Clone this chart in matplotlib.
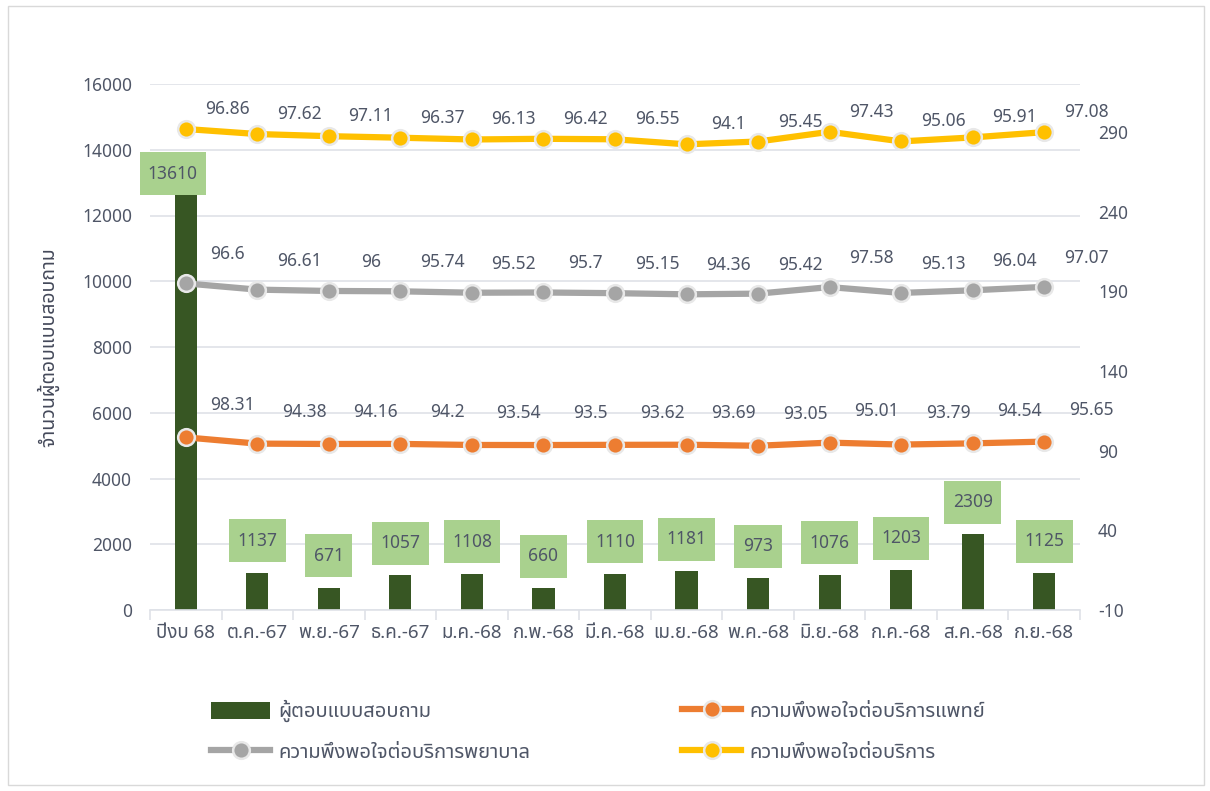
import numpy as np
import matplotlib
matplotlib.use("Agg")
import matplotlib.pyplot as plt
from matplotlib import font_manager
from matplotlib.ft2font import FT2Font
from matplotlib.patches import Rectangle, Patch
from matplotlib.lines import Line2D
from matplotlib.text import Text
from matplotlib.offsetbox import DrawingArea, AnnotationBbox

# ---------------- data ----------------
categories = ["ปีงบ 68", "ต.ค.-67", "พ.ย.-67", "ธ.ค.-67", "ม.ค.-68", "ก.พ.-68", "มี.ค.-68",
              "เม.ย.-68", "พ.ค.-68", "มิ.ย.-68", "ก.ค.-68", "ส.ค.-68", "ก.ย.-68"]
respondents = [13610, 1137, 671, 1057, 1108, 660, 1110, 1181, 973, 1076, 1203, 2309, 1125]
sat_doctor = [98.31, 94.38, 94.16, 94.2, 93.54, 93.5, 93.62, 93.69, 93.05, 95.01, 93.79, 94.54, 95.65]
sat_nurse = [96.6, 96.61, 96, 95.74, 95.52, 95.7, 95.15, 94.36, 95.42, 97.58, 95.13, 96.04, 97.07]
sat_service = [96.86, 97.62, 97.11, 96.37, 96.13, 96.42, 96.55, 94.1, 95.45, 97.43, 95.06, 95.91, 97.08]

left_ticks = [0, 2000, 4000, 6000, 8000, 10000, 12000, 14000, 16000]
right_ticks = [-10, 40, 90, 140, 190, 240, 290]

label_bar = "ผู้ตอบแบบสอบถาม"
label_doc = "ความพึงพอใจต่อบริการแพทย์"
label_nurse = "ความพึงพอใจต่อบริการพยาบาล"
label_service = "ความพึงพอใจต่อบริการ"
ylabel_left = "จำนวนผู้ตอบแบบสอบถาม"

# ---------------- font ----------------
def find_thai_font():
    prefs = ['Noto Sans Thai', 'Noto Sans Thai UI', 'Loma', 'Garuda', 'Sarabun', 'Umpush',
             'Waree', 'Tlwg Typist', 'Tlwg Typo', 'Kinnari', 'Norasi', 'Laksaman', 'FreeSans']
    found = []
    for f in font_manager.fontManager.ttflist:
        try:
            cm = FT2Font(f.fname).get_charmap()
            if 0x0E01 in cm and 0x0E1E in cm and 0x0E34 in cm:
                found.append(f.name)
        except Exception:
            pass
    for p in prefs:
        if p in found:
            return p
    return found[0] if found else None

thai = find_thai_font()
families = ([thai] if thai else []) + ['DejaVu Sans']
plt.rcParams['font.family'] = families

TXT = '#4f5667'
GRID = '#dfe2e8'
C_BAR = '#375623'
C_DOC = '#ed7d31'
C_NUR = '#a5a5a5'
C_SER = '#ffc000'
C_BOX = '#a9d18e'
PT = 72 / 100  # points per pixel at dpi 100

W, H = 1210, 791
fig = plt.figure(figsize=(W / 100, H / 100), dpi=100)
fig.patches.append(Rectangle((8 / W, 6 / H), (W - 14) / W, (H - 12) / H, transform=fig.transFigure,
                             fill=False, edgecolor='#d9d9d9', linewidth=1.0))

ax = fig.add_axes([150 / W, 1 - 610 / H, 930 / W, 526 / H])
ax2 = ax.twinx()

x = np.arange(len(categories))

# bars
ax.bar(x, respondents, width=0.31, color=C_BAR, zorder=2)
ax.set_ylim(0, 16000)
ax.set_xlim(-0.5, len(categories) - 0.5)
ax.set_yticks(left_ticks)
ax.set_yticklabels([str(t) for t in left_ticks])
ax.yaxis.grid(True, color=GRID, linewidth=1.2)
ax.set_axisbelow(True)
for s in ['top', 'right', 'left']:
    ax.spines[s].set_visible(False)
ax.spines['bottom'].set_color(GRID)
ax.spines['bottom'].set_linewidth(1.2)
ax.tick_params(axis='y', length=0, pad=13, labelsize=12.5, labelcolor=TXT)
ax.set_xticks(x)
ax.set_xticklabels(categories)
ax.tick_params(axis='x', which='major', length=0, pad=10, labelsize=13.5, labelcolor=TXT)
ax.set_xticks(np.arange(-0.5, len(categories) + 0.5, 1), minor=True)
ax.tick_params(axis='x', which='minor', length=7, width=1.2, color=GRID)
ax.set_ylabel(ylabel_left, fontsize=14, color='#44495a', labelpad=16, fontweight='bold')

# stacked lines (stacked line chart: each series adds on top of the previous one)
doc_arr = np.array(sat_doctor)
nur_arr = np.array(sat_nurse)
ser_arr = np.array(sat_service)
stack_doc = doc_arr
stack_nur = doc_arr + nur_arr
stack_ser = doc_arr + nur_arr + ser_arr

line_kw = dict(linewidth=4.5, marker='o', markersize=12, markeredgewidth=1.8,
               markeredgecolor='#e8e8e8')
ax2.plot(x, stack_doc, color=C_DOC, markerfacecolor=C_DOC, zorder=4, **line_kw)
ax2.plot(x, stack_nur, color=C_NUR, markerfacecolor=C_NUR, zorder=4, **line_kw)
ax2.plot(x, stack_ser, color=C_SER, markerfacecolor=C_SER, zorder=4, **line_kw)
ax2.set_ylim(-10, 320)
ax2.set_yticks(right_ticks)
ax2.set_yticklabels([str(t) for t in right_ticks])
for s in ['top', 'right', 'left', 'bottom']:
    ax2.spines[s].set_visible(False)
ax2.tick_params(axis='y', length=0, pad=13, labelsize=12.5, labelcolor=TXT)

# bar labels in green boxes (drawn on ax2 so they sit above the lines)
for xi, v in zip(x, respondents):
    s = str(v)
    bw = (9.4 * len(s) + 19) * PT
    bh = 43 * PT
    da = DrawingArea(bw, bh, 0, 0)
    da.add_artist(Rectangle((0, 0), bw, bh, fc=C_BOX, ec='none'))
    da.add_artist(Text(bw / 2, bh / 2, s, ha='center', va='center', fontsize=12.5, color=TXT))
    if v > 12000:
        offx, offy = -13, -11
    else:
        offx, offy = 0, 32
    ab = AnnotationBbox(da, (xi, v), xycoords=ax.transData, xybox=(offx * PT, offy * PT),
                        boxcoords='offset points', frameon=False, pad=0, box_alignment=(0.5, 0.5))
    ab.set_zorder(7)
    ax2.add_artist(ab)

def label_series(stack, vals, dx, dy):
    for xi, yv, v in zip(x, stack, vals):
        ax2.annotate(f"{v:g}", (xi, yv), xytext=(dx * PT, dy * PT), textcoords='offset points',
                     ha='center', va='center', fontsize=12.5, color=TXT, zorder=6)

label_series(stack_ser, sat_service, 42, 20)
label_series(stack_nur, sat_nurse, 42, 29)
label_series(stack_doc, sat_doctor, 47, 32)

# legend (column-major fill: col1 = bar, nurse; col2 = doctor, service)
handles = [
    Patch(facecolor=C_BAR, edgecolor='none', label=label_bar),
    Line2D([], [], color=C_NUR, markerfacecolor=C_NUR, label=label_nurse, **line_kw),
    Line2D([], [], color=C_DOC, markerfacecolor=C_DOC, label=label_doc, **line_kw),
    Line2D([], [], color=C_SER, markerfacecolor=C_SER, label=label_service, **line_kw),
]
leg = fig.legend(handles=handles, ncol=2, loc='upper left', bbox_to_anchor=(211 / W, 1 - 700 / H),
                 frameon=False, fontsize=14.5, labelcolor=TXT, handlelength=2.93, handleheight=0.9,
                 columnspacing=7.55, labelspacing=1.0, handletextpad=0.4, borderpad=0, borderaxespad=0)

fig.savefig("out.png", dpi=100)
